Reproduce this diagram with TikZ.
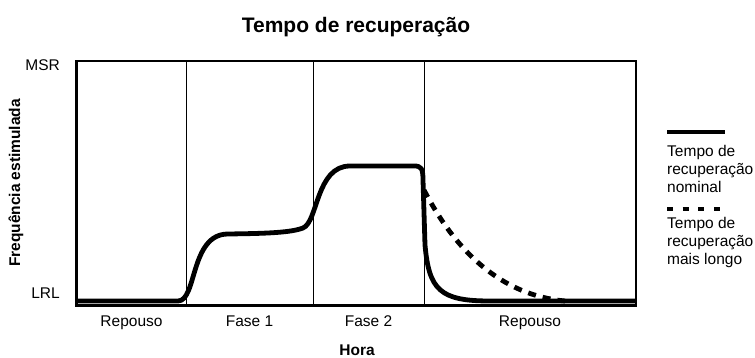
\documentclass[tikz,border=0pt]{standalone}
\usepackage{fontspec}
\setmainfont{Liberation Sans}
\usepackage{tikz}

\tikzset{
    txt/.style={inner sep=0pt, font=\fontsize{15.5}{18.3}\selectfont},
    txtb/.style={inner sep=0pt, font=\fontsize{15.5}{18.3}\selectfont\bfseries},
    divisor/.style={line width=0.9pt},
    curva/.style={line width=4.8pt, line join=round},
    curvalonga/.style={line width=4.8pt, dash pattern=on 8pt off 7pt},
}

\begin{document}
\begin{tikzpicture}[x=1pt,y=1pt,yscale=-1]
    \useasboundingbox (0,0) rectangle (755,358);
    \draw [line width=2.4pt]   (76.5,61) -- (636,61) -- (636,305.5) -- (76.5,305.5) -- cycle ;
    \draw [divisor]   (186,61) -- (186,305.5) ;
    \draw [divisor]   (313.5,61) -- (313.5,305.5) ;
    \draw [divisor]   (424,61) -- (424,305.5) ;
    
    \draw [curvalonga]   (424,190) .. controls (455,250) and (500,295) .. (565,301) ;
    \draw [curva]   (77,301) -- (178,301) .. controls (197,301) and (190,234) .. (228,234) .. controls (262,233.5) and (290,233) .. (303,228) .. controls (318,222) and (316,166) .. (350,166) -- (414,166) .. controls (421,166) and (423,168) .. (423,180) -- (425,245) .. controls (429,290) and (440,301) .. (490,301) -- (635,301) ;
    
    \draw [line width=4pt]   (667,131.7) -- (725,131.7) ;
    \draw [line width=4pt, dash pattern=on 6pt off 9.67pt]   (667,209.3) -- (720,209.3) ;
    
    \draw (356,32.5) node (titulo) [anchor=base][inner sep=0pt] [font=\fontsize{21}{25}\selectfont\bfseries] {Tempo de recuperação};
    \draw (60,71) node (msr) [anchor=base east][txt] {MSR};
    \draw (60,298.3) node (lrl) [anchor=base east][txt] {LRL};
    \draw (16,183) node (eixoy) [rotate=90][txtb] {Frequência estimulada};
    \draw (131.5,326) node (repousoa) [anchor=base][txt] {Repouso};
    \draw (249.5,326) node (fasea) [anchor=base][txt] {Fase 1};
    \draw (368.5,326) node (faseb) [anchor=base][txt] {Fase 2};
    \draw (530,326) node (repousob) [anchor=base][txt] {Repouso};
    \draw (357,355) node (hora) [anchor=base][txtb] {Hora};
    \draw (667,192.7) node (legnominal) [anchor=base west][txt] [align=left] {Tempo de\\recuperação\\nominal};
    \draw (667,265) node (leglongo) [anchor=base west][txt] [align=left] {Tempo de\\recuperação\\mais longo};
\end{tikzpicture}
\end{document}
